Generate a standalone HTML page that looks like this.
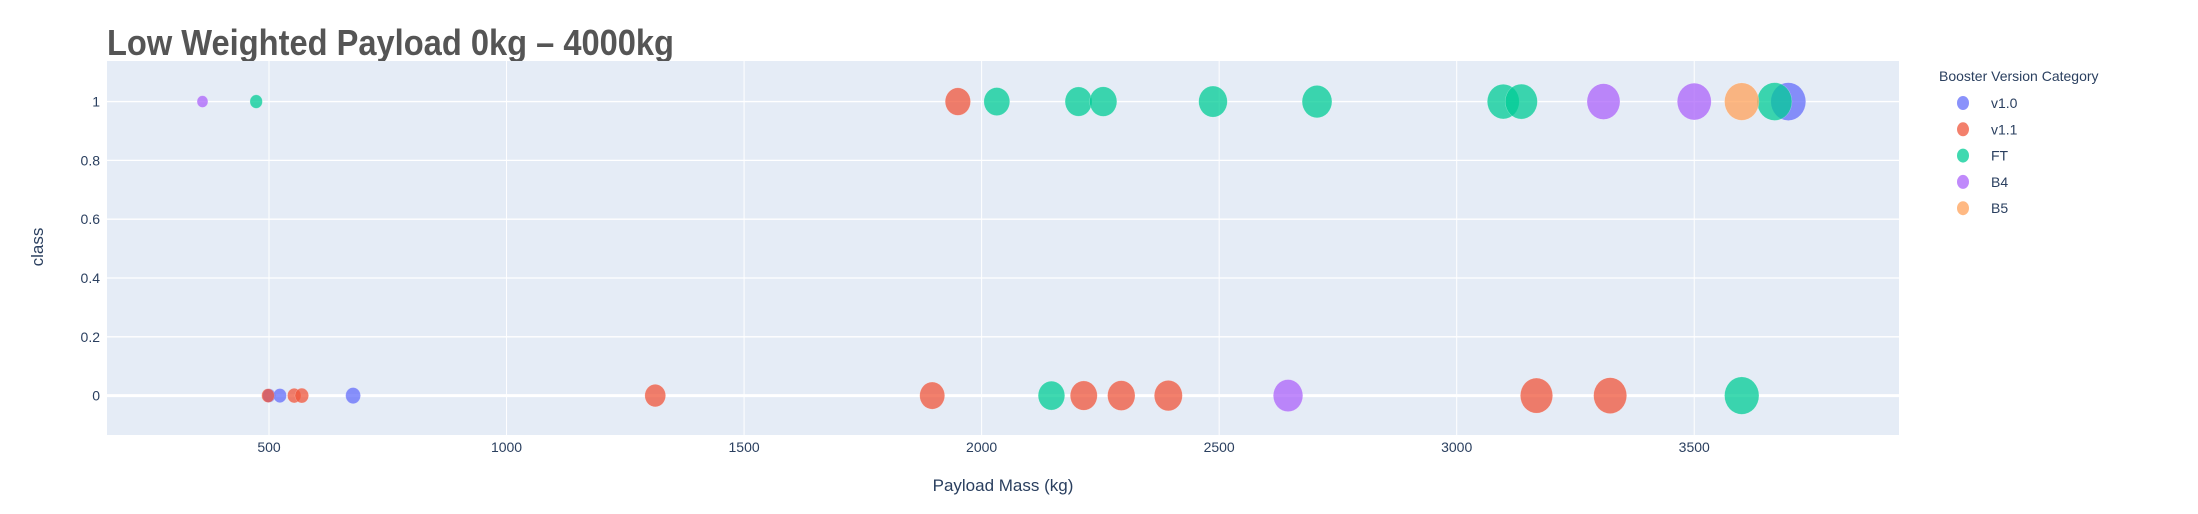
<!DOCTYPE html>
<html><head><meta charset="utf-8"><style>
html,body{margin:0;padding:0;background:#fff;}
svg{display:block;font-family:"Liberation Sans",sans-serif;}
</style></head><body>
<svg id="chart" width="2198" height="514" viewBox="0 0 2198 514">
  <text x="107" y="55" font-size="36" font-weight="bold" fill="#555" textLength="567" lengthAdjust="spacingAndGlyphs">Low Weighted Payload 0kg – 4000kg</text>
  <rect x="107" y="61" width="1792" height="374" fill="#E5ECF6"/>
  <g id="grid"></g>
  <g id="marks"></g>
  <g id="axes"></g>
  <text x="1003" y="491" font-size="17" fill="#2a3f5f" text-anchor="middle">Payload Mass (kg)</text>
  <text x="0" y="0" font-size="17" fill="#2a3f5f" text-anchor="middle" transform="translate(43,247) rotate(-90)">class</text>
  <text x="1939" y="81" font-size="14" fill="#2a3f5f">Booster Version Category</text>
  <g id="legend"></g>
</svg>
<script>
const categories = ["v1.0","v1.1","FT","B4","B5"];
const colors = ["#636efa","#EF553B","#00cc96","#ab63fa","#FFA15A"];
const xTicks = [500,1000,1500,2000,2500,3000,3500];
const yTicks = [0,0.2,0.4,0.6,0.8,1];
const yTickLabels = ["0","0.2","0.4","0.6","0.8","1"];
const payloads = [360,473,1950,2032,2204,2256,2487,2706,3098,3136,3309,3500,3600,3669,3698,
  500,498,523,553,569,677,1313,1896,2147,2215,2294,2393,2645,3168,3323,3600];
const classes = [1,1,1,1,1,1,1,1,1,1,1,1,1,1,1,
  0,0,0,0,0,0,0,0,0,0,0,0,0,0,0,0];
const boosters = ["B4","FT","v1.1","FT","FT","FT","FT","FT","FT","FT","B4","B4","B5","FT","v1.0",
  "v1.0","v1.1","v1.0","v1.1","v1.1","v1.0","v1.1","v1.1","FT","v1.1","v1.1","v1.1","B4","v1.1","v1.1","FT"];

const NS="http://www.w3.org/2000/svg";
const X0=107,X1=1899,Y0=61,Y1=435, xMin=159, xMax=3931, yMin=-0.134, yMax=1.138;
function sx(v){return X0+(v-xMin)/(xMax-xMin)*(X1-X0);}
function sy(v){return Y1-(v-yMin)/(yMax-yMin)*(Y1-Y0);}
function mk(tag,attrs,parent){const e=document.createElementNS(NS,tag);for(const k in attrs)e.setAttribute(k,attrs[k]);parent.appendChild(e);return e;}
const grid=document.getElementById('grid'),axes=document.getElementById('axes'),marks=document.getElementById('marks'),legend=document.getElementById('legend');
xTicks.forEach(t=>{
  const l=mk('line',{x1:sx(t),x2:sx(t),y1:Y0,y2:Y1,stroke:'#fff','stroke-width':1},grid);
  
  
  const tx=mk('text',{x:sx(t),y:452,'font-size':14,fill:'#2a3f5f','text-anchor':'middle'},axes);
  tx.textContent=t;
  
  
});
yTicks.forEach((t,i)=>{
  const l=mk('line',{x1:X0,x2:X1,y1:sy(t),y2:sy(t),stroke:'#fff','stroke-width':t===0?3:1.3},grid);
  
  
  const tx=mk('text',{x:100,y:sy(t)+5,'font-size':14,fill:'#2a3f5f','text-anchor':'end'},axes);
  tx.textContent=yTickLabels[i];
  
  
});
const maxP=3700;
categories.forEach((c,ci)=>{
  payloads.forEach((p,i)=>{
    if(boosters[i]!==c)return;
    const r=19*Math.sqrt(p/maxP);
    const e=mk('ellipse',{cx:sx(p),cy:sy(classes[i]),rx:r*0.92,ry:r,fill:colors[ci],'fill-opacity':0.75,stroke:'#fff','stroke-opacity':0.4,'stroke-width':0.5},marks);
    
    
  });
  const ly=103+ci*26.3;
  const m=mk('ellipse',{cx:1963,cy:ly,rx:6,ry:7,fill:colors[ci],'fill-opacity':0.75},legend);
  
  
  const t=mk('text',{x:1991,y:ly+5,'font-size':14,fill:'#2a3f5f'},legend);
  t.textContent=c;
  
  
});
</script>
</body></html>
